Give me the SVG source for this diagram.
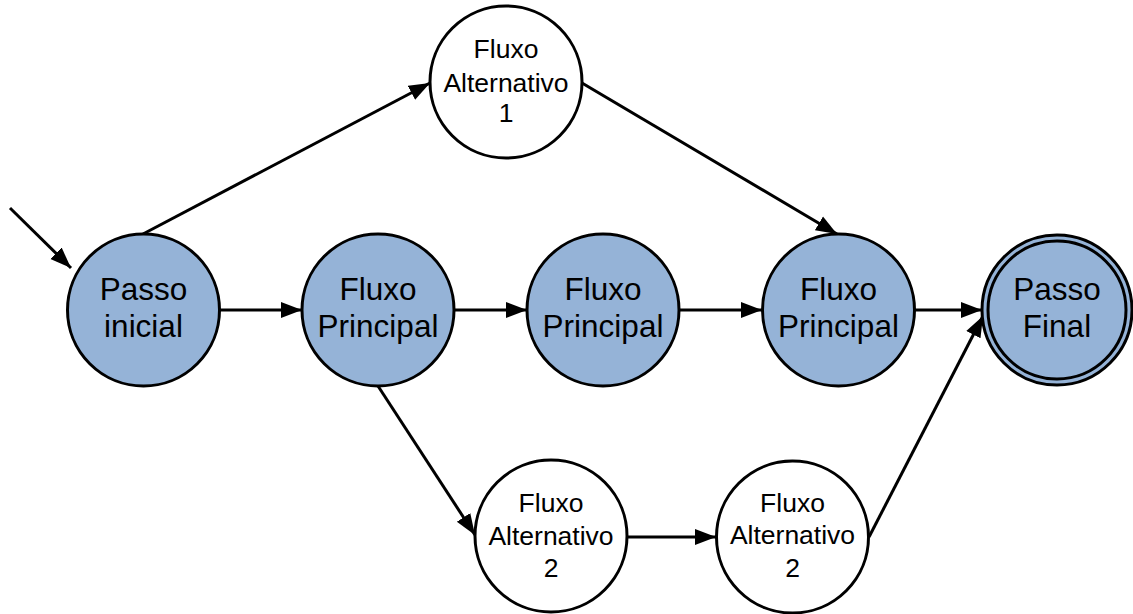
<svg xmlns="http://www.w3.org/2000/svg" width="1133" height="614" viewBox="0 0 1133 614">
<style>
.main{fill:#95b3d7;stroke:#000;stroke-width:3}
.alt{fill:#fff;stroke:#000;stroke-width:3}
.ring{fill:none;stroke:#000;stroke-width:3}
.big{font-family:"Liberation Sans",Arial,sans-serif;font-size:31.5px;fill:#000;text-anchor:middle}
.small{font-family:"Liberation Sans",Arial,sans-serif;font-size:26.5px;fill:#000;text-anchor:middle}
.edge{fill:none;stroke:#000;stroke-width:3;marker-end:url(#arr)}
</style>
<defs>
<marker id="arr" markerUnits="userSpaceOnUse" markerWidth="22" markerHeight="18" viewBox="0 0 22 18" refX="21" refY="9" orient="auto">
<path d="M0,1 L21,9 L0,17 Z" fill="#000"/>
</marker>
</defs>
<g id="connectors">
<line class="edge" x1="10" y1="208" x2="71" y2="268"/>
<line class="edge" x1="143" y1="234" x2="430" y2="83"/>
<line class="edge" x1="582" y1="83" x2="837" y2="234"/>
<line class="edge" x1="220" y1="310" x2="302" y2="310"/>
<line class="edge" x1="454" y1="310" x2="527" y2="310"/>
<line class="edge" x1="679" y1="310" x2="762" y2="310"/>
<line class="edge" x1="915" y1="310" x2="982" y2="310"/>
<line class="edge" x1="378" y1="386" x2="475" y2="535"/>
<line class="edge" x1="627" y1="537" x2="716" y2="537"/>
<line class="edge" x1="869" y1="537" x2="983" y2="316"/>
</g>
<g id="passo-inicial">
<circle class="main" cx="143.5" cy="310" r="76"/>
<text class="big" x="143.5" y="300">Passo</text>
<text class="big" x="143.5" y="337">inicial</text>
</g>
<g id="fluxo-principal-1">
<circle class="main" cx="378" cy="310" r="76"/>
<text class="big" x="378" y="300">Fluxo</text>
<text class="big" x="378" y="337">Principal</text>
</g>
<g id="fluxo-principal-2">
<circle class="main" cx="603" cy="310" r="76"/>
<text class="big" x="603" y="300">Fluxo</text>
<text class="big" x="603" y="337">Principal</text>
</g>
<g id="fluxo-principal-3">
<circle class="main" cx="838.5" cy="310" r="76"/>
<text class="big" x="838.5" y="300">Fluxo</text>
<text class="big" x="838.5" y="337">Principal</text>
</g>
<g id="passo-final">
<circle class="main" cx="1057" cy="310" r="75"/>
<circle class="ring" cx="1057" cy="310" r="69"/>
<text class="big" x="1057" y="300">Passo</text>
<text class="big" x="1057" y="337">Final</text>
</g>
<g id="fluxo-alternativo-1">
<circle class="alt" cx="506" cy="82" r="76"/>
<text class="small" x="506" y="58">Fluxo</text>
<text class="small" x="506" y="92">Alternativo</text>
<text class="small" x="506" y="122">1</text>
</g>
<g id="fluxo-alternativo-2a">
<circle class="alt" cx="551" cy="536" r="76"/>
<text class="small" x="551" y="512">Fluxo</text>
<text class="small" x="551" y="545">Alternativo</text>
<text class="small" x="551" y="577">2</text>
</g>
<g id="fluxo-alternativo-2b">
<circle class="alt" cx="792.5" cy="537" r="76"/>
<text class="small" x="792.5" y="512">Fluxo</text>
<text class="small" x="792.5" y="544">Alternativo</text>
<text class="small" x="792.5" y="577">2</text>
</g>
</svg>
